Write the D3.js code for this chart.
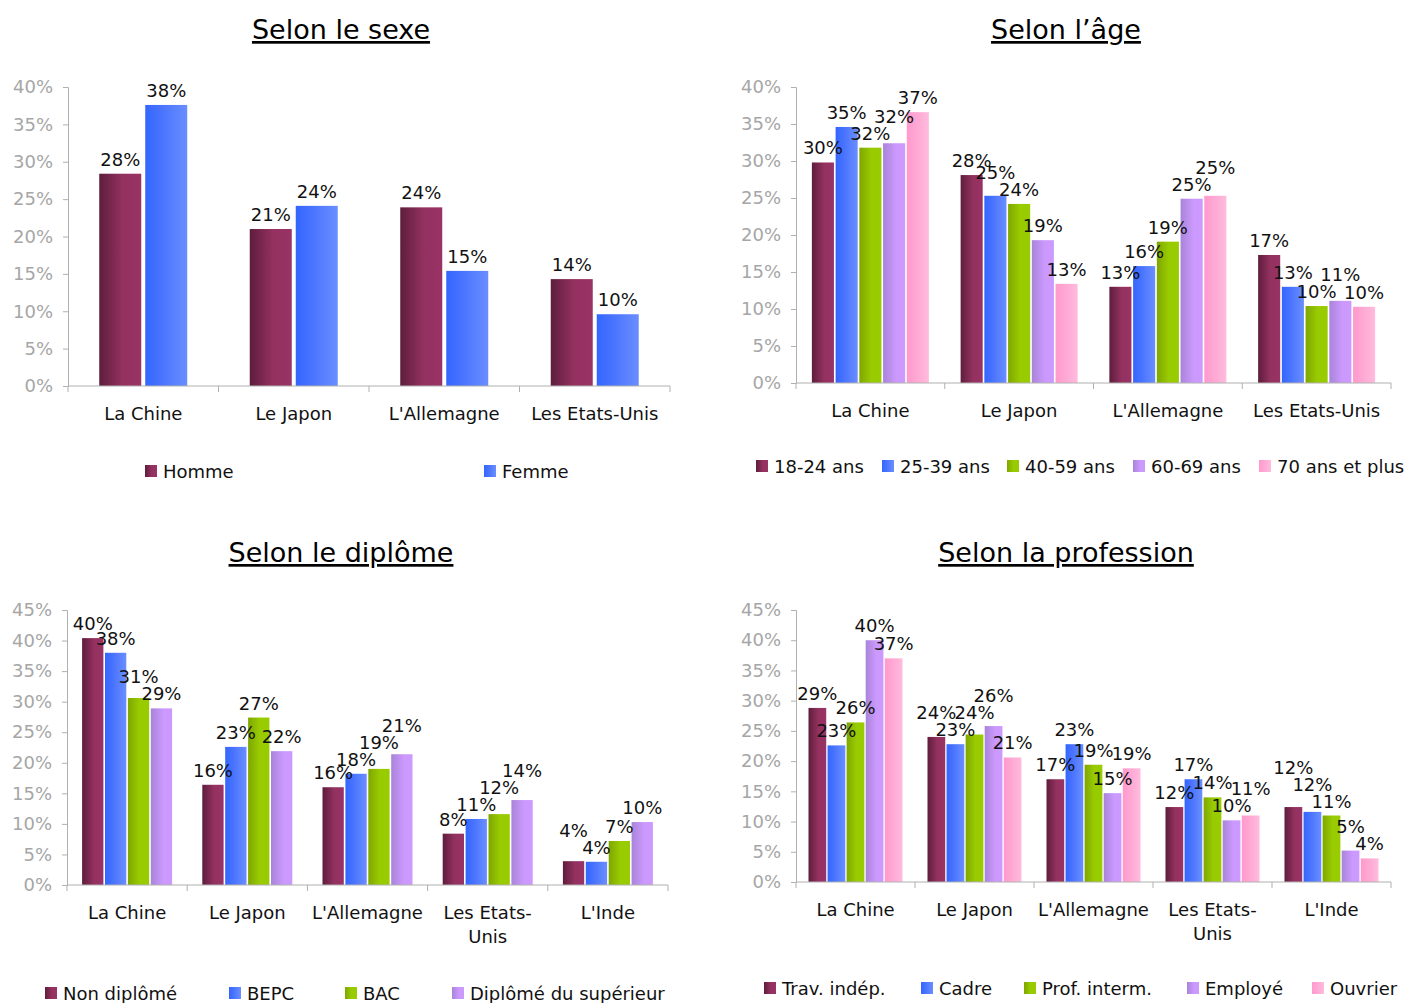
<!DOCTYPE html>
<html><head><meta charset="utf-8">
<script src="https://cdn.jsdelivr.net/npm/d3@7"></script>
<style>
body{margin:0;background:#fff;}
svg{display:block;font-family:"DejaVu Sans",Verdana,sans-serif;}
</style></head>
<body>
<svg id="chart" width="1407" height="1003"></svg>
<script>
// ---------- DATA ----------
const countries4 = ["La Chine", "Le Japon", "L'Allemagne", "Les Etats-Unis"];
const countries5 = ["La Chine", "Le Japon", "L'Allemagne", "Les Etats-\nUnis", "L'Inde"];

const sexeSeries = ["Homme", "Femme"];
const sexeHomme = [28.4, 21.0, 23.9, 14.3];
const sexeFemme = [37.6, 24.1, 15.4, 9.6];

const ageSeries = ["18-24 ans", "25-39 ans", "40-59 ans", "60-69 ans", "70 ans et plus"];
const age1824 = [29.8, 28.1, 13.0, 17.3];
const age2539 = [34.6, 25.3, 15.8, 13.0];
const age4059 = [31.8, 24.2, 19.1, 10.4];
const age6069 = [32.4, 19.3, 24.9, 11.1];
const age70 = [36.6, 13.4, 25.3, 10.3];

const diplSeries = ["Non diplômé", "BEPC", "BAC", "Diplômé du supérieur"];
const diplNon = [40.4, 16.4, 16.0, 8.4, 3.9];
const diplBepc = [38.0, 22.6, 18.2, 10.8, 3.8];
const diplBac = [30.6, 27.4, 19.0, 11.6, 7.2];
const diplSup = [28.9, 21.9, 21.4, 13.9, 10.3];

const profSeries = ["Trav. indép.", "Cadre", "Prof. interm.", "Employé", "Ouvrier"];
const profTrav = [28.8, 24.0, 17.0, 12.4, 12.4];
const profCadre = [22.6, 22.8, 22.8, 17.0, 11.6];
const profInter = [26.4, 24.4, 19.4, 14.0, 11.0];
const profEmpl = [40.0, 25.8, 14.7, 10.2, 5.2];
const profOuvr = [37.0, 20.6, 18.8, 11.0, 3.9];

const ticks40 = [0, 5, 10, 15, 20, 25, 30, 35, 40];
const ticks45 = [0, 5, 10, 15, 20, 25, 30, 35, 40, 45];

// ---------- STYLE ----------
const gradStops = [
  [["0%", "#5e1d3c"], ["55%", "#93315f"], ["100%", "#993366"]],
  [["0%", "#3366ff"], ["35%", "#4772ff"], ["100%", "#6a8eff"]],
  [["0%", "#7fa600"], ["55%", "#99cc00"], ["100%", "#99cc00"]],
  [["0%", "#a884d8"], ["60%", "#cc99ff"], ["100%", "#cc99ff"]],
  [["0%", "#ff99cc"], ["100%", "#ffbbdd"]]
];
const axisColor = "#b0b0b0";
const tickTextColor = "#a6a6a6";

const svg = d3.select("#chart");
const defs = svg.append("defs");
gradStops.forEach((stops, i) => {
  const g = defs.append("linearGradient").attr("id", "g" + i)
    .attr("x1", "0%").attr("x2", "100%").attr("y1", "0%").attr("y2", "0%");
  stops.forEach(s => g.append("stop").attr("offset", s[0]).attr("stop-color", s[1]));
});

function panel(cfg) {
  const g = svg.append("g");
  // title
  g.append("text").attr("x", cfg.titleX).attr("y", cfg.titleY)
    .attr("text-anchor", "middle").attr("font-size", 27).attr("fill", "#000")
    .style("text-decoration", "underline").text(cfg.title);

  const x = d3.scaleBand().domain(cfg.categories).range([cfg.x0, cfg.x1]).padding(0);
  const y = d3.scaleLinear().domain([0, cfg.max]).range([cfg.y0, cfg.yTop]);
  const bw = x.bandwidth();
  const inner = d3.scaleBand().domain(cfg.series)
    .range([(bw - cfg.groupW) / 2, (bw + cfg.groupW) / 2])
    .paddingInner(cfg.gapRatio).paddingOuter(0);

  // y axis
  const ya = g.append("g").attr("transform", `translate(${cfg.x0},0)`)
    .call(d3.axisLeft(y).tickValues(cfg.ticks).tickSize(5).tickPadding(10).tickFormat(d => d + "%"));
  ya.select(".domain").attr("stroke", axisColor);
  ya.selectAll(".tick line").attr("stroke", axisColor);
  ya.selectAll(".tick text").attr("fill", tickTextColor).attr("font-size", 18)
    .attr("font-family", "DejaVu Sans, sans-serif");

  // bars
  const data = [];
  cfg.categories.forEach((c, ci) => {
    cfg.series.forEach((s, si) => data.push({c, ci, s, si, v: cfg.values[si][ci]}));
  });
  g.append("g").selectAll("rect").data(data).join("rect")
    .attr("x", d => x(d.c) + inner(d.s))
    .attr("width", inner.bandwidth())
    .attr("y", d => y(d.v))
    .attr("height", d => y(0) - y(d.v))
    .attr("fill", d => `url(#g${cfg.colorIdx[d.si]})`);

  // data labels: above bars, nudged upward when they collide
  data.forEach(d => {
    d.lx = x(d.c) + inner(d.s) + inner.bandwidth() / 2;
    d.ly = y(d.v) - 8;
  });
  cfg.categories.forEach((c, ci) => {
    const grp = data.filter(d => d.ci === ci);
    for (let pass = 0; pass < 10; pass++) {
      let moved = false;
      for (let i = 0; i < grp.length; i++) {
        for (let j = i + 1; j < grp.length; j++) {
          const a = grp[i], b = grp[j];
          if (Math.abs(a.lx - b.lx) < 33 && Math.abs(a.ly - b.ly) < 11) {
            if (b.ly <= a.ly) b.ly = a.ly - 17; else a.ly = b.ly - 17;
            moved = true;
          }
        }
      }
      if (!moved) break;
    }
  });
  g.append("g").selectAll("text").data(data).join("text")
    .attr("x", d => d.lx)
    .attr("y", d => d.ly)
    .attr("text-anchor", "middle").attr("font-size", 18).attr("fill", "#111")
    .text(d => Math.round(d.v) + "%");

  // x axis
  g.append("line").attr("x1", cfg.x0).attr("x2", cfg.x1).attr("y1", cfg.y0).attr("y2", cfg.y0)
    .attr("stroke", axisColor);
  const bounds = cfg.categories.map(c => x(c)).concat([cfg.x1]);
  g.append("g").selectAll("line").data(bounds).join("line")
    .attr("x1", d => d).attr("x2", d => d).attr("y1", cfg.y0).attr("y2", cfg.y0 + 6)
    .attr("stroke", axisColor);
  const cl = g.append("g").selectAll("text").data(cfg.categories).join("text")
    .attr("x", d => x(d) + bw / 2).attr("y", cfg.y0 + 34)
    .attr("text-anchor", "middle").attr("font-size", 18).attr("fill", "#111");
  cl.each(function(d) {
    const lines = d.split("\n");
    d3.select(this).selectAll("tspan").data(lines).join("tspan")
      .attr("x", x(d) + bw / 2).attr("dy", (l, i) => i === 0 ? 0 : 24).text(l => l);
  });

  // legend
  const lg = g.append("g");
  cfg.series.forEach((s, i) => {
    lg.append("rect").attr("x", cfg.legendX[i]).attr("y", cfg.legendY - 6)
      .attr("width", 12).attr("height", 12).attr("fill", `url(#g${cfg.colorIdx[i]})`);
    lg.append("text").attr("x", cfg.legendX[i] + 18).attr("y", cfg.legendY + 7)
      .attr("font-size", 18).attr("fill", "#111").text(s);
  });
}

panel({
  title: "Selon le sexe", titleX: 341, titleY: 39,
  categories: countries4, series: sexeSeries, values: [sexeHomme, sexeFemme],
  colorIdx: [0, 1], x0: 68, x1: 670, y0: 386, yTop: 87, max: 40, ticks: ticks40,
  groupW: 88, gapRatio: 4 / 46,
  legendX: [145, 484], legendY: 471
});
panel({
  title: "Selon l\u2019âge", titleX: 1066, titleY: 39,
  categories: countries4, series: ageSeries, values: [age1824, age2539, age4059, age6069, age70],
  colorIdx: [0, 1, 2, 3, 4], x0: 796, x1: 1391, y0: 383, yTop: 87, max: 40, ticks: ticks40,
  groupW: 117, gapRatio: 0.07,
  legendX: [756, 882, 1007, 1133, 1259], legendY: 466
});
panel({
  title: "Selon le diplôme", titleX: 341, titleY: 562,
  categories: countries5, series: diplSeries, values: [diplNon, diplBepc, diplBac, diplSup],
  colorIdx: [0, 1, 2, 3], x0: 67, x1: 668, y0: 885, yTop: 610, max: 45, ticks: ticks45,
  groupW: 90, gapRatio: 0.07,
  legendX: [45, 229, 345, 452], legendY: 993
});
panel({
  title: "Selon la profession", titleX: 1066, titleY: 562,
  categories: countries5, series: profSeries, values: [profTrav, profCadre, profInter, profEmpl, profOuvr],
  colorIdx: [0, 1, 2, 3, 4], x0: 796, x1: 1391, y0: 882, yTop: 610, max: 45, ticks: ticks45,
  groupW: 94, gapRatio: 0.07,
  legendX: [764, 921, 1024, 1187, 1312], legendY: 988
});
</script>
</body></html>
